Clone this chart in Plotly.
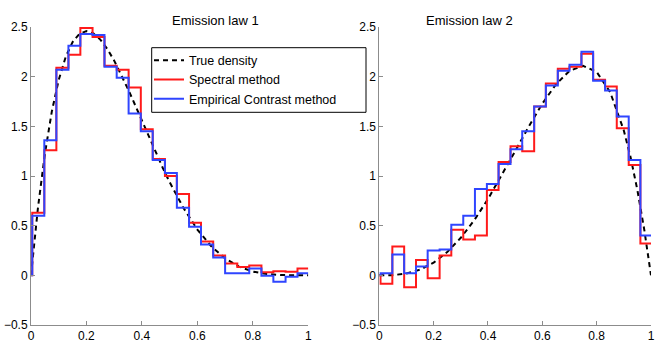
import plotly.graph_objects as go

# ---- data ----
bin_edges = [0, 0.0045, 0.048, 0.0915, 0.135, 0.178, 0.222, 0.265, 0.309, 0.352,
             0.396, 0.439, 0.483, 0.526, 0.570, 0.613, 0.657, 0.700, 0.744,
             0.787, 0.831, 0.874, 0.918, 0.961, 1.0]

spectral_1 = [0.63, 1.26, 2.09, 2.22, 2.49, 2.40, 2.11, 2.07, 1.89, 1.47, 1.17, 1.00,
              0.82, 0.53, 0.34, 0.20, 0.12, 0.085, 0.10, 0.03, 0.04, 0.035, 0.07]
empirical_1 = [0.60, 1.36, 2.07, 2.31, 2.43, 2.42, 2.10, 1.99, 1.63, 1.45, 1.16, 1.03,
               0.68, 0.49, 0.31, 0.18, 0.02, 0.02, 0.07, -0.005, -0.065, -0.015, 0.02]

spectral_2 = [-0.085, 0.29, -0.12, 0.155, -0.03, 0.20, 0.46, 0.36, 0.40, 0.86, 1.14,
              1.30, 1.25, 1.70, 1.93, 2.08, 2.10, 2.23, 1.97, 1.90, 1.48, 1.11, 0.32]
empirical_2 = [0.02, 0.21, 0.02, 0.09, 0.25, 0.26, 0.51, 0.60, 0.87, 0.92, 1.12,
               1.27, 1.45, 1.70, 1.91, 2.06, 2.12, 2.25, 1.96, 1.86, 1.60, 1.16, 0.40]

true_x1 = [0, 0.0125, 0.025, 0.05, 0.075, 0.1, 0.125, 0.15, 0.175, 0.2, 0.225, 0.25,
           0.275, 0.3, 0.325, 0.35, 0.375, 0.4, 0.425, 0.45, 0.475, 0.5, 0.55, 0.6,
           0.65, 0.7, 0.75, 0.8, 0.85, 0.9, 0.95, 1.0]
true_y1 = [0, 0.357, 0.678, 1.222, 1.648, 1.968, 2.198, 2.349, 2.432, 2.458, 2.435,
           2.373, 2.279, 2.161, 2.024, 1.874, 1.717, 1.555, 1.394, 1.235, 1.083,
           0.938, 0.677, 0.461, 0.293, 0.170, 0.088, 0.038, 0.013, 0.003, 0.0002, 0]

true_x2 = [0, 0.05, 0.1, 0.15, 0.2, 0.25, 0.3, 0.35, 0.4, 0.45, 0.5, 0.55, 0.6, 0.65,
           0.7, 0.75, 0.8, 0.85, 0.9, 0.925, 0.95, 0.975, 0.985, 0.99, 0.995, 1.0]
true_y2 = [0, 0.002, 0.018, 0.057, 0.128, 0.234, 0.378, 0.557, 0.768, 1.002, 1.25,
           1.497, 1.728, 1.922, 2.058, 2.109, 2.048, 1.842, 1.458, 1.187, 0.857,
           0.463, 0.287, 0.194, 0.099, 0]

titles = ["Emission law 1", "Emission law 2"]
legend_names = ["True density", "Spectral method", "Empirical Contrast method"]
x_ticks = [0, 0.2, 0.4, 0.6, 0.8, 1]
y_ticks = [-0.5, 0, 0.5, 1, 1.5, 2, 2.5]

RED = "#ff1a1a"
BLUE = "#2f45ff"
FONT = "Liberation Sans"

fig = go.Figure()

panels = [
    (true_x1, true_y1, spectral_1, empirical_1, "x", "y", True),
    (true_x2, true_y2, spectral_2, empirical_2, "x2", "y2", False),
]
for tx, ty, sp, em, xa, ya, show in panels:
    fig.add_trace(go.Scatter(x=tx, y=ty, mode="lines", name=legend_names[0],
                             line=dict(color="black", width=2, dash="5px,4px"),
                             xaxis=xa, yaxis=ya, showlegend=show))
    fig.add_trace(go.Scatter(x=bin_edges, y=[0] + sp + [sp[-1]], mode="lines",
                             name=legend_names[1], line=dict(color=RED, width=2, shape="hv"),
                             xaxis=xa, yaxis=ya, showlegend=show))
    fig.add_trace(go.Scatter(x=bin_edges, y=[0] + em + [em[-1]], mode="lines",
                             name=legend_names[2], line=dict(color=BLUE, width=2, shape="hv"),
                             xaxis=xa, yaxis=ya, showlegend=show))

W, H = 664, 347
ydom = [1 - 325 / H, 1 - 27 / H]
axis_common = dict(showline=True, linecolor="#8c8c8c", linewidth=1, ticks="inside",
                   ticklen=4, tickcolor="#8c8c8c", showgrid=False, zeroline=False,
                   automargin=False,
                   tickfont=dict(family=FONT, size=12, color="black"))

fig.update_layout(
    template="none",
    width=W, height=H,
    margin=dict(l=0, r=0, t=0, b=0, autoexpand=False),
    paper_bgcolor="white", plot_bgcolor="white",
    font=dict(family=FONT, size=12, color="black"),
    xaxis=dict(domain=[31 / W, 308.3 / W], range=[0, 1], tickvals=x_ticks,
               anchor="y", **axis_common),
    yaxis=dict(domain=ydom, range=[-0.5, 2.5], tickvals=y_ticks, anchor="x",
               **axis_common),
    xaxis2=dict(domain=[379.3 / W, 651 / W], range=[0, 1], tickvals=x_ticks,
                anchor="y2", **axis_common),
    yaxis2=dict(domain=ydom, range=[-0.5, 2.5], tickvals=y_ticks, anchor="x2",
                **axis_common),
    legend=dict(x=149 / W, y=1 - 45.5 / H, xanchor="left", yanchor="top",
                bgcolor="rgba(0,0,0,0)", borderwidth=0,
                font=dict(family=FONT, size=12.5, color="black"),
                tracegroupgap=0, itemwidth=30),
    showlegend=True,
    shapes=[
        dict(type="rect", xref="paper", yref="paper", layer="above",
             x0=151.7 / W, x1=366 / W, y0=1 - 112.3 / H, y1=1 - 47.7 / H,
             fillcolor="white", line=dict(color="black", width=1)),
    ],
    annotations=[
        dict(text=titles[0], x=(31 + 308.3) / 2 / W, y=1 - 11 / H, xref="paper", yref="paper",
             showarrow=False, font=dict(family=FONT, size=13, color="black")),
        dict(text=titles[1], x=(379.3 + 651) / 2 / W, y=1 - 11 / H, xref="paper", yref="paper",
             showarrow=False, font=dict(family=FONT, size=13, color="black")),
    ],
)

fig.write_html(
    "out.html",
    config={"displayModeBar": False},
    post_script="document.body.style.margin='0';document.body.style.padding='0';"
                "document.body.style.overflow='hidden';",
)
